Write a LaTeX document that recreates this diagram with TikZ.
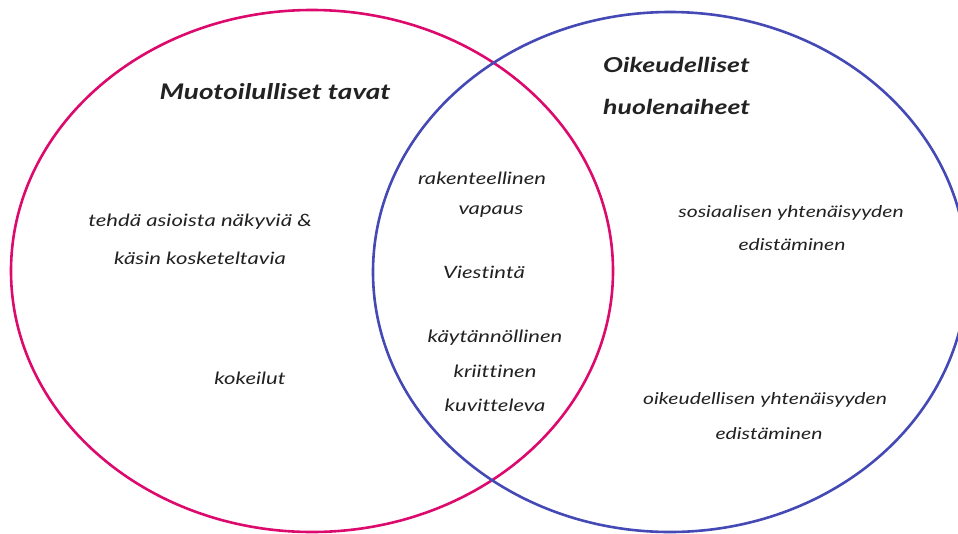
\documentclass[tikz,border=0pt]{standalone}
\usepackage{fontspec}
\newfontfamily\handfont[FakeStretch=1.3,Ligatures=NoCommon]{Lato}
\definecolor{setpink}{HTML}{DD0A6E}
\definecolor{setblue}{HTML}{4549B6}
\definecolor{ink}{HTML}{222222}
\begin{document}
\begin{tikzpicture}[x=1pt,y=-1pt,
  ring/.style={line width=2.6pt},
  lbl/.style={text=ink,font=\handfont\itshape\fontsize{17}{20}\selectfont,inner sep=0pt},
  lblr/.style={lbl,font=\handfont\itshape\fontsize{16.3}{20}\selectfont},
  ttl/.style={text=ink,font=\handfont\bfseries\itshape\fontsize{21.5}{25}\selectfont,inner sep=0pt}]
\useasboundingbox (0,0) rectangle (958,533);
\begin{scope}
\clip (0,0) rectangle (958,533);
\draw[ring,setpink] (312,271) ellipse [x radius=301, y radius=261];
\draw[ring,setblue] (670,272) ellipse [x radius=297, y radius=260];
\end{scope}
% set titles
\node[ttl] (tL) at (275,92) {Muotoilulliset tavat};
\node[ttl,anchor=west,font=\handfont\bfseries\itshape\fontsize{20.5}{25}\selectfont] (tR1) at (603,65) {Oikeudelliset};
\node[ttl,anchor=west,font=\handfont\bfseries\itshape\fontsize{20.5}{25}\selectfont] (tR2) at (603,107) {huolenaiheet};
% left set
\node[lbl] (a1) at (200,222) {tehdä asioista näkyviä \&};
\node[lbl] (a2) at (200,258) {käsin kosketeltavia};
\node[lbl] (a3) at (250,378) {kokeilut};
% intersection
\node[lbl] (m1) at (482,178) {rakenteellinen};
\node[lbl] (m2) at (491,212) {vapaus};
\node[lbl] (m3) at (484,272) {Viestintä};
\node[lbl] (m4) at (495,338) {käytännöllinen};
\node[lbl] (m5) at (495,371) {kriittinen};
\node[lbl] (m6) at (495,405) {kuvitteleva};
% right set
\node[lblr] (b1) at (791,213) {sosiaalisen yhtenäisyyden};
\node[lblr] (b2) at (792,245) {edistäminen};
\node[lblr] (b3) at (765,400) {oikeudellisen yhtenäisyyden};
\node[lblr] (b4) at (769,434) {edistäminen};
\end{tikzpicture}
\end{document}
